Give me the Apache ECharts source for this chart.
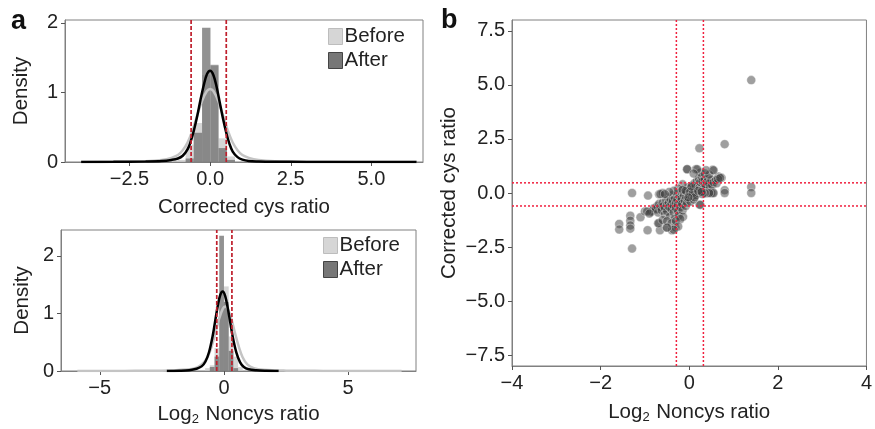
<!DOCTYPE html>
<html>
<head>
<meta charset="utf-8">
<script src="https://cdn.jsdelivr.net/npm/echarts@6/dist/echarts.min.js"></script>
<style>
  html, body { margin: 0; padding: 0; background: #fff; }
  #main { width: 875px; height: 429px; }
</style>
</head>
<body>
<div id="main"></div>
<script>
// ---- panel a, top : corrected cys ratio ----
var cysEdges  = [-1.02, -0.76, -0.51, -0.25, 0.01, 0.26, 0.52, 0.77];
var cysBefore = [0.03, 0.25, 0.56, 1.25, 1.4, 0.34, 0.08];
var cysAfter  = [0.0, 0.05, 0.42, 1.93, 1.39, 0.2, 0.03];
var cysKdeAfterX  = [-4.0, -3.0, -2.0, -1.5, -1.2, -1.0, -0.85, -0.7, -0.6, -0.5, -0.4, -0.3, -0.2, -0.1, 0, 0.1, 0.2, 0.3, 0.4, 0.5, 0.6, 0.7, 0.85, 1.0, 1.2, 1.5, 2.0, 3.0, 4.5, 6.4];
var cysKdeAfterY  = [0.0, 0.002, 0.008, 0.015, 0.03, 0.05, 0.09, 0.18, 0.3, 0.46, 0.66, 0.89, 1.1, 1.26, 1.31, 1.25, 1.08, 0.85, 0.62, 0.42, 0.26, 0.15, 0.07, 0.035, 0.015, 0.008, 0.004, 0.001, 0.0005, 0];
var cysKdeBeforeX = [-4.0, -3.0, -2.0, -1.5, -1.2, -1.0, -0.85, -0.7, -0.55, -0.4, -0.25, -0.1, 0, 0.1, 0.25, 0.4, 0.55, 0.7, 0.85, 1.0, 1.2, 1.5, 2.0, 3.0, 4.5, 6.4];
var cysKdeBeforeY = [0.0, 0.004, 0.012, 0.03, 0.06, 0.1, 0.17, 0.28, 0.45, 0.67, 0.88, 1.02, 1.05, 1.02, 0.88, 0.67, 0.45, 0.28, 0.17, 0.1, 0.06, 0.03, 0.012, 0.004, 0.001, 0];
var cysCut = [-0.59, 0.5];

// ---- panel a, bottom : log2 noncys ratio ----
var ncEdges  = [-0.76, -0.57, -0.38, -0.19, 0, 0.19, 0.38, 0.57, 0.76];
var ncBefore = [0.05, 0.1, 0.4, 1.1, 1.47, 0.6, 0.25, 0.07];
var ncAfter  = [0.0, 0.07, 0.25, 2.35, 1.2, 0.35, 0.05, 0.0];
var ncKdeAfterX  = [-2.3, -1.8, -1.4, -1.1, -0.9, -0.75, -0.6, -0.45, -0.35, -0.25, -0.15, -0.05, 0.05, 0.15, 0.25, 0.35, 0.5, 0.65, 0.8, 1.0, 1.3, 1.7, 2.2];
var ncKdeAfterY  = [0, 0.005, 0.015, 0.04, 0.08, 0.16, 0.33, 0.62, 0.88, 1.13, 1.32, 1.38, 1.3, 1.1, 0.85, 0.6, 0.32, 0.15, 0.07, 0.03, 0.012, 0.004, 0];
var ncKdeBeforeX = [-5.9, -4, -2.5, -1.5, -1.1, -0.85, -0.65, -0.5, -0.35, -0.2, -0.05, 0.05, 0.15, 0.3, 0.45, 0.6, 0.75, 0.95, 1.2, 1.6, 2.5, 4, 7.15];
var ncKdeBeforeY = [0, 0.002, 0.006, 0.025, 0.06, 0.13, 0.25, 0.42, 0.65, 0.9, 1.08, 1.12, 1.08, 0.9, 0.65, 0.42, 0.24, 0.11, 0.05, 0.02, 0.006, 0.002, 0];
var ncCut = [-0.29, 0.32];

// ---- panel b : scatter ----
var noncys = [1.40, 0.80, 0.23, 1.40, 1.40, 0.80, 0.80, -1.29, -1.29, -1.58, -1.58, -1.33, -1.33, -1.33, -1.33, -1.10, -0.93, -0.94, -0.68, -0.68, -0.66, -0.51, -0.39, -0.31, -0.87, -0.74,
  -0.04, 0.15, 0.53, 0.66, 0.73, 0.41, 0.53, 0.38, 0.23,
  -0.85, -0.80, -0.75, -0.72, -0.70, -0.68, -0.65, -0.62, -0.60, -0.58, -0.55, -0.55, -0.52, -0.50, -0.50, -0.48, -0.46, -0.45, -0.44, -0.42, -0.40, -0.40,
  -0.38, -0.37, -0.35, -0.35, -0.33, -0.32, -0.30, -0.30, -0.28, -0.27, -0.26, -0.25, -0.24, -0.22, -0.20, -0.20, -0.18, -0.17, -0.16, -0.15, -0.14,
  -0.12, -0.10, -0.10, -0.08, -0.07, -0.05, -0.05, -0.04, -0.02, 0.00, 0.00, 0.02, 0.03, 0.05, 0.06, 0.07, 0.08, 0.10, 0.10, 0.12, 0.13, 0.15, 0.15,
  0.17, 0.18, 0.20, 0.20, 0.22, 0.23, 0.25, 0.25, 0.27, 0.28, 0.30, 0.30, 0.32, 0.35, 0.35, 0.38, 0.40, 0.40, 0.42, 0.45, 0.47, 0.50, 0.50, 0.52,
  0.55, 0.60, 0.62, 0.65, 0.70, 0.55, 0.45, 0.35, 0.30, 0.25, 0.35, 0.45, 0.18, 0.38, 0.55, -0.05, 0.10, -0.15, -0.25, -0.35, -0.45, -0.60, -0.65,
  -0.55, -0.70, -0.60, -0.50, -0.40, -0.30, -0.20, -0.25, -0.35, -0.50, -1.00, -0.95, -0.90, -0.15, -0.08, 0.02, 0.08, 0.12, -0.02, 0.05, 0.20, 0.28];
var cys = [5.22, 2.26, 2.07, 0.28, 0.00, 0.13, 0.00, 0.00, -2.57, -1.43, -1.69, -1.05, -1.28, -1.50, -1.65, -1.12, -0.12, -1.72, -0.06, -1.40, -1.72, -1.60, -1.72, -1.60, -0.88, -0.75,
  1.10, 1.10, 1.07, 0.76, 0.70, 0.46, 0.00, 0.00, -0.53,
  -0.85, -0.70, -0.75, -0.60, -0.90, -0.50, -0.65, -0.80, -0.45, -0.60, -0.70, -1.00, -0.35, -0.55, -0.85, -0.20, -0.45, -0.65, -1.10, -0.30, -0.50, -0.75,
  -0.10, -0.35, -0.60, -0.90, -1.20, -0.25, -0.45, -0.70, -0.05, -0.30, -0.55, -0.85, -1.05, -0.15, -0.40, -0.65, 0.05, -0.25, -0.50, -0.80, -1.10,
  -0.10, -0.35, 0.15, -0.60, -0.20, 0.05, -0.45, 0.25, -0.30, 0.00, -0.10, 0.20, -0.40, 0.10, -0.15, 0.35, -0.05, 0.20, -0.30, 0.45, 0.05, 0.30, -0.10,
  0.55, 0.15, 0.40, 0.00, 0.65, 0.25, 0.50, -0.55, 0.10, 0.75, 0.35, 0.55, 0.20, 0.60, 0.40, 0.30, 0.50, 0.00, 0.70, 0.45, 0.25, 0.60, 0.00, 0.35,
  0.50, 0.60, 0.45, 0.65, 0.70, 0.00, 0.00, 0.00, -0.05, 0.95, 0.90, 0.85, 1.10, 1.05, 1.05, 1.10, 0.90, 0.40, 0.20, 0.10, 0.05, 0.00, -0.05,
  -0.05, -1.40, -1.25, -1.30, -1.40, -1.30, -1.20, -1.55, -1.70, -1.60, -0.85, -0.85, -0.95, 0.15, 0.10, 0.05, 0.00, -0.20, -0.20, 0.30, 0.10, 0.05];
var bCutX = [-0.29, 0.32];
var bCutY = [0.47, -0.6];
var bXRange = [-4, 4];
var bYRange = [-8, 8];

var FONT = '"Liberation Sans", Arial, Helvetica, sans-serif';

function histData(edges, heights) {
	var out = [];
	for (var i = 0; i < heights.length; i++) {
		out.push([edges[i], edges[i + 1], heights[i]]);
	}
	return out;
}
function zipXY(xs, ys) {
	return xs.map(function (x, i) { return [x, ys[i]]; });
}
function minusFmt(dec) {
	return function (v) {
		var s = Math.abs(v).toFixed(dec);
		return (v < 0 ? '\u2212' : '') + s;
	};
}
function histRender(params, api) {
	var a = api.coord([api.value(0), 0]);
	var b = api.coord([api.value(1), api.value(2)]);
	return {
		type: 'rect',
		shape: { x: a[0], y: b[1], width: b[0] - a[0], height: a[1] - b[1] },
		style: api.style()
	};
}
// cut-off lines through the axes' own scales, drawn by a custom series
function cutRender(params, api) {
	var vertical = api.value(0) === 0;
	var v = api.value(1);
	var p0, p1;
	if (vertical) {
		p0 = api.coord([v, api.value(2)]);
		p1 = api.coord([v, api.value(3)]);
	} else {
		p0 = api.coord([api.value(2), v]);
		p1 = api.coord([api.value(3), v]);
	}
	var isB = params.seriesName === 'cutB';
	return {
		type: 'line',
		shape: { x1: p0[0], y1: p0[1], x2: p1[0], y2: p1[1] },
		style: { stroke: isB ? '#f0203e' : '#bf1f2c', lineWidth: isB ? 1.5 : 1.7, lineDash: isB ? [2, 2] : [4, 2] }
	};
}
function cutSeries(name, idx, data) {
	return {
		name: name, type: 'custom', xAxisIndex: idx, yAxisIndex: idx, silent: true, z: 5,
		renderItem: cutRender, encode: { x: 1, y: 2 },
		data: data
	};
}

var tickLabel = { color: '#222', fontSize: 20, fontFamily: FONT, margin: 7 };
var frameAxisLine = { show: true, onZero: false, lineStyle: { color: '#808080', width: 1 } };
var tick = { show: true, length: 4, lineStyle: { color: '#555' } };
var subRich = {
	n: { fontSize: 20.5, fontFamily: FONT, color: '#222' },
	s: { fontSize: 13, fontFamily: FONT, color: '#222', padding: [10, 1, 0, 0] }
};

function xAxisA(idx, min, max, vals, dec, name, gap) {
	return {
		type: 'value', gridIndex: idx, min: min, max: max,
		axisLine: frameAxisLine, splitLine: { show: false },
		axisTick: Object.assign({ customValues: vals }, tick),
		axisLabel: Object.assign({ customValues: vals, formatter: minusFmt(dec) }, tickLabel),
		name: name, nameLocation: 'middle', nameGap: gap,
		nameTextStyle: { color: '#222', fontSize: 20.5, fontFamily: FONT, rich: subRich }
	};
}
function yAxisA(idx, max, gap) {
	return {
		type: 'value', gridIndex: idx, min: 0, max: max,
		axisLine: frameAxisLine, splitLine: { show: false },
		axisTick: Object.assign({ customValues: [0, 1, 2] }, tick),
		axisLabel: Object.assign({ customValues: [0, 1, 2] }, tickLabel),
		name: 'Density', nameLocation: 'middle', nameRotate: 90, nameGap: gap,
		nameTextStyle: { color: '#222', fontSize: 20.5, fontFamily: FONT }
	};
}
function legendA(left, top) {
	return {
		orient: 'vertical', left: left, top: top, padding: 0,
		itemWidth: 14, itemHeight: 16, itemGap: 3, icon: 'rect',
		textStyle: { fontSize: 20.5, color: '#222', fontFamily: FONT, padding: [0, 0, 0, -3] },
		data: [
			{ name: 'Before', itemStyle: { color: '#d6d6d6', borderColor: '#bdbdbd', borderWidth: 1 } },
			{ name: 'After', itemStyle: { color: '#777', borderColor: '#444', borderWidth: 1 } }
		]
	};
}

var series = [
	// top histogram
	{
		name: 'Before', type: 'custom', xAxisIndex: 0, yAxisIndex: 0,
		renderItem: histRender, encode: { x: [0, 1], y: 2 },
		itemStyle: { color: 'rgba(200,200,200,0.75)' },
		data: histData(cysEdges, cysBefore)
	},
	{
		name: 'After', type: 'custom', xAxisIndex: 0, yAxisIndex: 0,
		renderItem: histRender, encode: { x: [0, 1], y: 2 },
		itemStyle: { color: 'rgba(110,110,110,0.75)' },
		data: histData(cysEdges, cysAfter)
	},
	{
		type: 'line', xAxisIndex: 0, yAxisIndex: 0, smooth: 0.35, showSymbol: false,
		lineStyle: { color: '#c4c4c4', width: 2.5 },
		data: zipXY(cysKdeBeforeX, cysKdeBeforeY)
	},
	{
		type: 'line', xAxisIndex: 0, yAxisIndex: 0, smooth: 0.35, showSymbol: false,
		lineStyle: { color: '#000', width: 2.5 },
		data: zipXY(cysKdeAfterX, cysKdeAfterY)
	},
	// bottom histogram
	{
		name: 'Before', type: 'custom', xAxisIndex: 1, yAxisIndex: 1,
		renderItem: histRender, encode: { x: [0, 1], y: 2 },
		itemStyle: { color: 'rgba(200,200,200,0.75)' },
		data: histData(ncEdges, ncBefore)
	},
	{
		name: 'After', type: 'custom', xAxisIndex: 1, yAxisIndex: 1,
		renderItem: histRender, encode: { x: [0, 1], y: 2 },
		itemStyle: { color: 'rgba(110,110,110,0.75)' },
		data: histData(ncEdges, ncAfter)
	},
	{
		type: 'line', xAxisIndex: 1, yAxisIndex: 1, smooth: 0.35, showSymbol: false,
		lineStyle: { color: '#c4c4c4', width: 2.5 },
		data: zipXY(ncKdeBeforeX, ncKdeBeforeY)
	},
	{
		type: 'line', xAxisIndex: 1, yAxisIndex: 1, smooth: 0.35, showSymbol: false,
		lineStyle: { color: '#000', width: 2.5 },
		data: zipXY(ncKdeAfterX, ncKdeAfterY)
	},
	// panel b scatter
	{
		type: 'scatter', xAxisIndex: 2, yAxisIndex: 2, symbolSize: 9,
		itemStyle: { color: 'rgba(60,60,60,0.62)', borderColor: 'rgba(255,255,255,0.8)', borderWidth: 0.6 },
		data: zipXY(noncys, cys)
	},
	// cut-off lines: [0 = vertical / 1 = horizontal, value, from, to]
	cutSeries('cutA', 0, cysCut.map(function (v) { return [0, v, 0, 2.04]; })),
	cutSeries('cutA', 1, ncCut.map(function (v) { return [0, v, 0, 2.45]; })),
	cutSeries('cutB', 2, bCutX.map(function (v) { return [0, v, bYRange[0], bYRange[1]]; })
		.concat(bCutY.map(function (v) { return [1, v, bXRange[0], bXRange[1]]; })))
];

var chart = echarts.init(document.getElementById('main'), null, { renderer: 'canvas' });

chart.setOption({
	animation: false,
	backgroundColor: '#fff',
	textStyle: { fontFamily: FONT },
	grid: [
		{ left: 65, top: 20, width: 358, height: 142, show: true, borderColor: '#808080', borderWidth: 1 },
		{ left: 61, top: 230, width: 355, height: 141, show: true, borderColor: '#808080', borderWidth: 1 },
		{ left: 512, top: 20, width: 356, height: 348, show: true, borderColor: '#808080', borderWidth: 1 }
	],
	legend: [legendA(328, 26), legendA(323, 235)],
	graphic: [
		{ type: 'text', left: 11, top: 8, style: { text: 'a', font: 'bold 27px ' + FONT, fill: '#111' } },
		{ type: 'text', left: 441, top: 7, style: { text: 'b', font: 'bold 27px ' + FONT, fill: '#111' } }
	],
	xAxis: [
		xAxisA(0, -4.5, 6.6, [-2.5, 0, 2.5, 5], 1, 'Corrected cys ratio', 35),
		xAxisA(1, -6.56, 7.73, [-5, 0, 5], 0, '{n|Log}{s|2}{n| Noncys ratio}', 32),
		{
			type: 'value', gridIndex: 2, min: bXRange[0], max: bXRange[1], interval: 2,
			axisLine: frameAxisLine, splitLine: { show: false }, axisTick: tick,
			axisLabel: Object.assign({ formatter: minusFmt(0) }, tickLabel),
			name: '{n|Log}{s|2}{n| Noncys ratio}', nameLocation: 'middle', nameGap: 35,
			nameTextStyle: { color: '#222', fontSize: 20.5, fontFamily: FONT, rich: subRich }
		}
	],
	yAxis: [
		yAxisA(0, 2.04, 33),
		yAxisA(1, 2.45, 28),
		{
			type: 'value', gridIndex: 2, min: bYRange[0], max: bYRange[1],
			axisLine: frameAxisLine, splitLine: { show: false },
			axisTick: Object.assign({ customValues: [-7.5, -5, -2.5, 0, 2.5, 5, 7.5] }, tick),
			axisLabel: Object.assign({ customValues: [-7.5, -5, -2.5, 0, 2.5, 5, 7.5], formatter: minusFmt(1) }, tickLabel),
			name: 'Corrected cys ratio', nameLocation: 'middle', nameRotate: 90, nameGap: 52,
			nameTextStyle: { color: '#222', fontSize: 20.5, fontFamily: FONT }
		}
	],
	series: series
});
</script>
</body>
</html>
